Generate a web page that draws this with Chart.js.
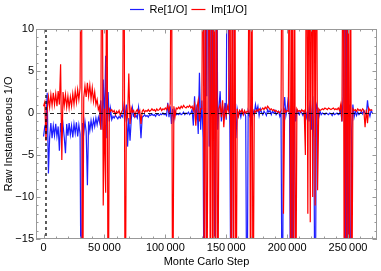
<!DOCTYPE html>
<html><head><meta charset="utf-8">
<script src="https://cdn.jsdelivr.net/npm/chart.js@4.4.0/dist/chart.umd.min.js"></script>
<style>html,body{margin:0;padding:0;background:#fff;overflow:hidden}canvas{display:block}</style>
</head><body>
<canvas id="c" width="381" height="271"></canvas>
<script>
// ---- data (one sample per 1000 MC steps) ----
const sampleEvery = 1000;
const reValues = [
 -2.8,-1.6,-1.2,2.4,-7.2,-2.9,-1.2,-3.0,-1.5,-2.7,
 -1.3,-2.8,-1.6,-4.5,-1.2,-2.6,-1.4,-2.9,-4.8,-1.3,
 -2.7,-1.2,-2.6,-1.5,-2.9,-1.3,-2.4,-1.1,-2.8,-1.4,
 -2.5,-30,-1.2,-2.4,-1.0,-2.2,-8.6,-1.0,-2.1,-0.9,
 -1.9,-0.8,-1.6,-0.6,-1.4,-0.5,-1.1,1.5,-2.0,4.0,
 -1.5,6.8,-3.0,2.5,-1.0,0.5,-0.8,-0.4,-0.6,-0.3,
 -0.5,-0.7,-0.4,-0.6,-0.3,-0.5,0.8,-0.5,1.0,-4.0,
 -0.6,-3.3,-0.8,0.6,-0.4,-0.5,-0.3,-0.6,0.7,-0.5,
 -3.0,-0.5,-0.4,-0.2,-0.4,-0.3,-0.5,-0.2,-0.3,-0.1,
 -0.3,-0.2,-0.4,-0.1,-0.2,-0.3,-0.1,-0.2,0.0,-0.2,
 -0.1,-0.3,1.2,-0.5,0.8,-1.3,0.5,-0.8,0.3,-0.2,
 -0.1,-0.2,0.0,-0.2,-0.1,0.1,-0.2,0.0,-0.1,0.1,
 -0.2,0.0,0.4,-1.5,2.0,-0.8,1.0,-2.5,4.8,-2.0,
 1.5,-3.0,-30,30,2.0,30,-4.0,-2.0,30,-2.0,
 1.0,-30,30,-2.0,0.5,2.6,-1.0,0.8,-0.5,1.2,
 -0.8,30,8.0,-2.0,-30,2.0,30,1.0,-3.0,0.5,
 -0.3,0.2,-0.5,0.3,-0.2,0.1,-0.4,-30,0.2,-0.3,
 0.5,-1.0,0.3,-0.2,1.0,0.2,0.8,-0.3,0.5,0.1,
 -0.2,0.2,0.0,-0.3,0.4,0.1,0.3,-0.2,0.2,0.0,
 0.3,-0.2,0.0,0.2,-0.4,0.1,-30,0.3,1.9,-0.3,
 0.5,1.9,-0.5,-30,0.5,-30,0.8,-1.0,0.3,0.1,
 -0.2,0.2,0.0,-0.3,0.1,0.2,-0.5,0.5,-1.0,1.5,
 -2.0,2.0,-3.0,-30,1.0,0.5,-0.5,0.2,-0.2,0.0,
 -0.1,-0.2,0.0,-0.1,-0.2,0.0,-0.1,-0.3,0.0,-0.2,
 -0.1,0.0,-0.2,-0.1,0.5,-1.0,2.0,30,-30,30,
 -30,1.0,-30,-2.0,1.0,-0.5,0.2,-0.3,0.1,-0.2,
 0.0,0.2,-0.1,0.3,0.0,-0.2,1.5,0.1,-0.4,0.3,
 0.0
];
const imValues = [
 0.8,1.3,-3.3,0.3,1.9,0.7,2.2,0.9,2.4,1.0,
 2.3,0.8,2.6,1.0,5.8,-5.6,2.5,0.9,2.2,0.7,
 2.0,0.6,1.9,0.8,2.3,1.0,2.6,1.3,2.8,1.6,
 3.0,30,-30,1.8,3.2,1.9,3.6,2.0,3.3,1.7,
 3.0,1.4,2.5,1.0,1.6,0.4,0.8,-2.0,30,-11,
 0.5,-9.5,30,-30,0.5,0.2,0.4,0.1,0.3,-0.2,
 0.2,0.0,0.3,-0.3,0.1,0.4,30,-30,0.2,-0.5,
 4.7,-1.3,0.6,0.1,0.3,-0.4,0.2,0.4,0.0,0.3,
 -1.3,0.2,0.4,0.1,0.3,0.2,0.4,0.2,0.3,0.5,
 0.3,0.4,0.2,0.5,0.3,0.4,0.6,0.3,0.5,0.4,
 0.6,0.4,0.9,0.2,1.1,30,-30,0.8,-0.4,0.6,
 0.5,0.7,0.5,0.8,0.6,0.9,0.7,0.6,0.8,0.7,
 0.9,0.6,0.8,0.3,1.0,-1.5,0.6,1.5,-1.0,0.5,
 0.5,30,-30,30,-30,1.0,30,-30,30,-30,
 30,-30,30,-30,0.5,1.0,-0.5,1.5,-1.7,0.6,
 -0.3,0.8,0.2,30,-30,30,-30,30,-30,0.5,
 -0.4,0.3,0.1,0.4,-0.2,0.3,0.0,0.2,0.1,30,
 -30,30,-30,0.3,0.1,0.4,0.2,0.5,0.3,0.4,
 0.6,0.4,0.7,0.5,0.8,0.6,0.4,0.5,0.3,0.4,
 0.2,0.3,0.1,0.2,0.0,0.3,30,-12,0.4,0.1,
 0.3,0.2,30,-30,30,-30,30,-30,0.5,0.2,
 0.3,0.1,0.4,0.2,0.3,-5,30,-12,30,-13,
 30,-10,30,-11,30,-9.2,0.5,0.3,0.4,0.5,
 0.4,0.6,0.5,0.4,0.6,0.5,0.4,0.5,0.6,0.4,
 0.5,0.4,0.6,0.3,1.0,-1.0,30,-30,30,-30,
 30,-30,30,-30,0.5,0.3,0.4,0.2,0.5,0.3,
 0.4,0.2,0.5,0.3,-1.7,0.4,-1.2,0.6,0.3,0.4,
 0.3
];
const seriesNames = ['Re[1/O]', 'Im[1/O]'];
const thermalizationStep = 2000;
const xTicks = [0, 50000, 100000, 150000, 200000, 250000];
const xTickLabels = ['0', '50\u2009000', '100\u2009000', '150\u2009000', '200\u2009000', '250\u2009000'];
const yTicks = [-15, -10, -5, 0, 5, 10];
const yTickLabels = ['\u221215', '\u221210', '\u22125', '0', '5', '10'];
const xRange = [-6200, 273800];
const yRange = [-15, 10];

// ---- chart ----
const steps = reValues.map((_, i) => i * sampleEvery);
const font = { family: "'Liberation Sans', Arial, sans-serif", size: 11 };

const framePlugin = {
  id: 'frame',
  beforeLayout(chart) {
    const lg = chart.legend;
    if (lg && !lg._patched) {
      const f = lg.fit;
      lg.fit = function () { f.call(this); this.height = 29; };
      lg._patched = true;
    }
  },
  afterDatasetsDraw(chart) {
    const { ctx, chartArea: a, scales: { x, y } } = chart;
    ctx.save();
    // reference lines
    ctx.strokeStyle = 'rgba(0,0,0,0.85)';
    ctx.lineWidth = 1;
    ctx.setLineDash([4, 3]);
    const y0 = Math.round(y.getPixelForValue(0)) + 0.5;
    ctx.beginPath(); ctx.moveTo(a.left, y0); ctx.lineTo(a.right, y0); ctx.stroke();
    ctx.lineWidth = 1.5;
    ctx.setLineDash([3, 3]);
    const xv = x.getPixelForValue(thermalizationStep);
    ctx.beginPath(); ctx.moveTo(xv, a.top); ctx.lineTo(xv, a.bottom); ctx.stroke();
    ctx.setLineDash([]);
    // frame
    ctx.strokeStyle = '#999';
    ctx.lineWidth = 1;
    ctx.strokeRect(a.left + 0.5, a.top + 0.5, a.width - 1, a.height - 1);
    // ticks (inward, all four sides)
    ctx.beginPath();
    for (let v = 0; v <= xRange[1]; v += 10000) {
      const px = Math.round(x.getPixelForValue(v)) + 0.5;
      const len = v % 50000 === 0 ? 4.5 : 2.5;
      ctx.moveTo(px, a.bottom); ctx.lineTo(px, a.bottom - len);
      ctx.moveTo(px, a.top); ctx.lineTo(px, a.top + len);
    }
    for (let v = yRange[0]; v <= yRange[1]; v += 1) {
      const py = Math.round(y.getPixelForValue(v)) + 0.5;
      const len = v % 5 === 0 ? 4.5 : 2.5;
      ctx.moveTo(a.left, py); ctx.lineTo(a.left + len, py);
      ctx.moveTo(a.right, py); ctx.lineTo(a.right - len, py);
    }
    ctx.stroke();
    ctx.restore();
  }
};

new Chart(document.getElementById('c'), {
  type: 'line',
  data: {
    datasets: [
      { label: seriesNames[0], data: steps.map((s, i) => ({ x: s, y: reValues[i] })),
        borderColor: 'rgb(30,30,255)', backgroundColor: 'rgb(30,30,255)', borderWidth: 1.2, pointRadius: 0, tension: 0, order: 1 },
      { label: seriesNames[1], data: steps.map((s, i) => ({ x: s, y: imValues[i] })),
        borderColor: 'rgb(255,0,0)', backgroundColor: 'rgb(255,0,0)', borderWidth: 1.2, pointRadius: 0, tension: 0, order: 0 }
    ]
  },
  options: {
    responsive: false, animation: false, devicePixelRatio: 1,
    layout: { padding: { left: 0, right: 4, top: 0, bottom: 0 } },
    plugins: {
      legend: {
        position: 'top',
        labels: {
          usePointStyle: true, pointStyle: 'line', pointStyleWidth: 14,
          padding: 4, font, color: '#000',
          sort: (a, b) => a.datasetIndex - b.datasetIndex
        }
      },
      tooltip: { enabled: false }
    },
    scales: {
      x: {
        type: 'linear', min: xRange[0], max: xRange[1],
        afterBuildTicks: s => { s.ticks = xTicks.map(v => ({ value: v })); },
        afterFit: s => { s.height = 32; },
        ticks: { autoSkip: false, maxRotation: 0, padding: 2, font, color: '#000',
          callback: v => xTickLabels[xTicks.indexOf(v)] },
        grid: { display: false, drawTicks: false },
        border: { display: false },
        title: { display: true, text: 'Monte Carlo Step', font, color: '#000', padding: { top: 0, bottom: 2 } }
      },
      y: {
        type: 'linear', min: yRange[0], max: yRange[1],
        afterBuildTicks: s => { s.ticks = yTicks.map(v => ({ value: v })); },
        afterFit: s => { s.width = 36; },
        ticks: { padding: 2, font, color: '#000',
          callback: v => yTickLabels[yTicks.indexOf(v)] },
        grid: { display: false, drawTicks: false },
        border: { display: false },
        title: { display: true, text: 'Raw Instantaneous 1/O', font, color: '#000', padding: { top: 2, bottom: 0 } }
      }
    }
  },
  plugins: [framePlugin]
});
</script>
</body></html>
